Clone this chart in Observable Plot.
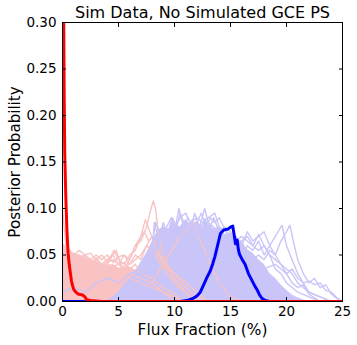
<!DOCTYPE html>
<html>
<head>
<meta charset="utf-8">
<script src="https://cdn.jsdelivr.net/npm/d3@7"></script>
<script src="https://cdn.jsdelivr.net/npm/@observablehq/plot@0.6"></script>
<style>
  html, body { margin: 0; padding: 0; background: #fff; }
  svg { font-family: "DejaVu Sans", sans-serif; }
</style>
</head>
<body>
<div id="chart"></div>
<script>
const titleText = "Sim Data, No Simulated GCE PS";
const xLabel = "Flux Fraction (%)";
const yLabel = "Posterior Probability";
const xTicks = [0, 5, 10, 15, 20, 25];
const yTicks = [0, 0.05, 0.10, 0.15, 0.20, 0.25, 0.30];

// Dense cores of the posterior sample clouds (upper envelope), [flux %, probability]
const pinkCore = [[0,.062],[0.5,.058],[1,.052],[1.5,.05],[2,.047],[2.5,.045],[3,.043],[3.5,.04],[4,.038],[4.5,.04],[5,.036],[5.5,.036],[6,.037],[6.5,.034],[7,.035],[7.5,.032],[8,.03],[8.5,.026],[9,.024],[9.5,.02],[10,.018],[10.5,.014],[11,.01],[11.5,.007],[12,.004],[12.5,.002],[13,0]];
const purpleCore = [[4,0],[4.5,.005],[5,.01],[5.5,.018],[6,.025],[6.5,.032],[7,.042],[7.5,.052],[8,.064],[8.5,.076],[9,.08],[9.5,.078],[9.75,.088],[10,.084],[10.5,.08],[11,.088],[11.5,.082],[12,.086],[12.5,.08],[12.75,.09],[13,.084],[13.5,.078],[14,.08],[14.5,.072],[15,.074],[15.5,.066],[16,.065],[16.5,.056],[17,.052],[17.5,.045],[18,.04],[18.5,.03],[19,.025],[19.5,.018],[20,.012],[20.5,.007],[21,.004],[21.5,.002],[22,0]];

// Individual faint sample curves (red-component samples)
const pinkSamples = [
  [[0,.04],[0.5,.045],[1,.04],[1.5,.05],[2,.045],[2.5,.042],[3,.047],[3.5,.04],[4,.045],[4.5,.05],[5,.04],[5.5,.035],[6,.045],[6.5,.06],[7,.065],[7.5,.08],[7.8,.095],[8.1,.108],[8.3,.1],[8.6,.07],[9,.05],[9.5,.035],[10,.02],[11,.01],[12,0]],
  [[0,.03],[1,.035],[2,.04],[3,.035],[4,.042],[4.6,.055],[5,.045],[5.5,.04],[6,.05],[6.5,.055],[7,.07],[7.4,.088],[7.8,.075],[8.3,.06],[9,.045],[10,.03],[11,.015],[12,.005],[13,0]],
  [[0,.05],[0.5,.05],[1,.045],[2,.05],[2.5,.04],[3,.045],[3.5,.038],[4,.04],[5,.035],[6,.04],[6.5,.05],[7,.045],[7.5,.06],[8,.07],[8.5,.055],[9,.04],[10,.025],[11,.01],[12,0]],
  [[0,.02],[1,.03],[2,.035],[3,.03],[4,.04],[4.5,.05],[4.8,.055],[5.2,.04],[6,.03],[7,.025],[8,.02],[9,.01],[10,0]],
  [[0,.1],[0.3,.06],[0.6,.05],[1,.045],[2,.04],[3,.035],[4,.03],[5,.03],[6,.025],[7,.02],[8,.015],[9,.01],[10,.005],[11,0]],
  [[8,.02],[9,.04],[10,.06],[10.5,.07],[11,.075],[11.6,.088],[12,.07],[12.5,.06],[13,.045],[14,.02],[15,.005],[16,0]],
  [[0,.06],[0.5,.055],[1,.05],[1.5,.055],[2,.05],[2.5,.052],[3,.045],[3.5,.05],[4,.042],[4.5,.045],[5,.04],[5.5,.042],[6,.035],[6.5,.04],[7,.03],[8,.025],[9,.015],[10,.008],[11,0]],
  [[0,.045],[0.5,.05],[1,.048],[1.5,.042],[2,.05],[2.5,.045],[3,.05],[3.5,.045],[4,.05],[4.5,.042],[5,.048],[5.5,.05],[6,.04],[6.5,.045],[7,.05],[7.5,.06],[8,.055],[8.5,.045],[9,.035],[10,.02],[11,.01],[12,0]],
  [[0,.035],[1,.04],[2,.03],[3,.04],[4,.035],[5,.04],[5.5,.05],[6,.045],[6.5,.06],[7,.07],[7.3,.075],[7.7,.065],[8,.07],[8.5,.05],[9,.04],[10,.03],[11,.02],[12,.01],[13,0]]
];

// Individual faint sample curves (blue-component samples)
const purpleSamples = [
  [[12,.02],[13,.03],[14,.04],[15,.05],[16,.045],[16.5,.06],[17,.055],[17.5,.065],[18,.05],[18.5,.06],[19,.07],[19.6,.082],[20,.06],[20.5,.045],[21,.03],[21.5,.02],[22,.01],[23,.005],[24,0]],
  [[13,.01],[14,.02],[15,.03],[16,.04],[17,.045],[17.5,.05],[18,.045],[18.5,.055],[19,.05],[19.5,.065],[20,.075],[20.3,.082],[20.7,.06],[21,.045],[21.5,.03],[22,.02],[22.5,.025],[23,.015],[23.5,.018],[24,.008],[24.5,.003],[25,0]],
  [[14,.03],[15,.05],[16,.065],[16.5,.07],[17,.06],[17.5,.072],[18,.06],[18.5,.05],[19,.045],[19.5,.04],[20,.035],[20.5,.03],[21,.02],[22,.01],[23,.005],[24,0]],
  [[15,.04],[16,.06],[16.5,.075],[17,.065],[17.5,.07],[18,.075],[18.5,.06],[19,.05],[19.5,.04],[20,.03],[20.5,.02],[21,.015],[21.5,.018],[22,.008],[23,0]],
  [[16,.03],[17,.04],[18,.035],[19,.04],[19.5,.035],[20,.03],[20.5,.035],[21,.025],[21.5,.02],[22,.022],[22.5,.018],[23,.02],[23.5,.012],[24,.01],[24.5,.004],[25,0]],
  [[6,.02],[7,.04],[8,.06],[8.3,.085],[8.8,.07],[9.3,.08],[9.7,.09],[10.1,.075],[10.5,.095],[11,.08],[11.5,.085],[12,.07],[12.7,.1],[13,.085],[13.5,.08],[14,.07],[15,.06],[16,.04],[17,.025],[18,.01],[19,0]],
  [[7,.03],[8,.05],[8.6,.07],[9,.065],[9.5,.075],[10,.08],[10.5,.09],[11,.095],[11.4,.085],[12,.09],[12.5,.085],[13,.09],[13.6,.095],[14,.08],[14.6,.075],[15,.07],[16,.05],[17,.035],[18,.015],[19,0]],
  [[0,.01],[1,.015],[2,.01],[3,.02],[4,.025],[5,.02],[6,.03],[7,.035],[8,.03],[9,.02],[10,.01],[11,0]],
  [[8,.04],[8.5,.06],[9,.085],[9.4,.07],[9.8,.09],[10.2,.08],[10.6,.07],[11,.085],[11.4,.075],[11.8,.095],[12.2,.08],[12.6,.085],[13,.075],[13.5,.09],[14,.075],[14.5,.08],[15,.065],[15.5,.07],[16,.055],[16.5,.05],[17,.04],[18,.02],[19,.005],[20,0]],
  [[9,.05],[9.5,.07],[10,.075],[10.4,.1],[10.8,.08],[11.2,.09],[11.6,.08],[12,.085],[12.4,.095],[12.8,.08],[13.2,.09],[13.6,.085],[14,.09],[14.4,.08],[15,.075],[15.5,.06],[16,.06],[16.5,.045],[17,.04],[17.5,.03],[18,.02],[19,.01],[20,0]],
  [[7,.02],[7.5,.04],[8,.055],[8.2,.085],[8.5,.07],[9,.075],[9.5,.065],[10,.07],[10.5,.075],[11,.07],[11.5,.075],[12,.065],[13,.07],[14,.06],[15,.05],[16,.035],[17,.02],[18,.01],[19,0]],
  [[12,.03],[13,.05],[14,.06],[15,.07],[15.5,.065],[16,.07],[16.5,.065],[17,.06],[17.5,.055],[18,.06],[18.5,.05],[19,.035],[19.5,.03],[20,.02],[20.5,.015],[21,.01],[22,.005],[23,0]]
];

// Highlighted posteriors
const bluePosterior = [[0,0],[10.5,0],[11.1,.001],[11.6,.003],[12,.006],[12.3,.01],[12.6,.018],[12.9,.026],[13.2,.033],[13.4,.04],[13.6,.048],[13.8,.058],[14,.068],[14.1,.073],[14.4,.077],[14.8,.078],[15,.08],[15.2,.081],[15.35,.07],[15.45,.062],[15.6,.066],[15.7,.056],[15.8,.051],[16,.046],[16.3,.04],[16.6,.03],[16.9,.023],[17.2,.016],[17.4,.012],[17.6,.007],[17.8,.0035],[18.1,.001],[18.5,0],[25,0]];
const redPosterior = [[0,.6],[0.1,.32],[0.15,.22],[0.2,.16],[0.3,.11],[0.4,.075],[0.5,.052],[0.6,.04],[0.7,.031],[0.8,.022],[0.9,.017],[1.0,.013],[1.2,.01],[1.4,.008],[1.6,.0075],[1.8,.007],[2.0,.005],[2.15,.002],[2.5,.001],[3,.0005],[3.5,0],[25,0]];

const pink = "#f9c3c3";
const purple = "#c9c5f8";

const toRows = (sets) => sets.flatMap((pts, i) => pts.map(([x, y]) => ({x, y, s: i})));
const pinkRows = toRows(pinkSamples);
const purpleRows = toRows(purpleSamples);

const fmt = d3.format(".2f");
const tickFont = 13.5;

const chart = Plot.plot({
  width: 357,
  height: 345,
  marginLeft: 62,
  marginRight: 15,
  marginTop: 22,
  marginBottom: 44,
  style: {fontFamily: "DejaVu Sans, sans-serif", background: "white"},
  x: {domain: [0, 25], axis: null},
  y: {domain: [0, 0.3], axis: null},
  marks: [
    Plot.areaY(pinkCore, {x: d => d[0], y: d => d[1], fill: pink, clip: true}),
    Plot.areaY(purpleCore, {x: d => d[0], y: d => d[1], fill: purple, clip: true}),
    Plot.line(pinkRows, {x: "x", y: "y", z: "s", stroke: pink, strokeWidth: 1.4, clip: true}),
    Plot.line(purpleRows, {x: "x", y: "y", z: "s", stroke: purple, strokeWidth: 1.4, clip: true}),
    Plot.line(bluePosterior, {x: d => d[0], y: d => d[1], stroke: "#0000ff", strokeWidth: 3, clip: true}),
    Plot.line(redPosterior, {x: d => d[0], y: d => d[1], stroke: "#ff0000", strokeWidth: 3, clip: true}),
    Plot.frame({stroke: "black", strokeWidth: 1}),
    // inward ticks on all four sides
    Plot.axisX(xTicks, {anchor: "bottom", tickSize: 4, insetBottom: 4, fill: "none", stroke: "black", label: null}),
    Plot.axisX(xTicks, {anchor: "top", tickSize: 4, insetTop: 4, fill: "none", stroke: "black", label: null}),
    Plot.axisY(yTicks, {anchor: "left", tickSize: 4, insetLeft: 4, fill: "none", stroke: "black", label: null}),
    Plot.axisY(yTicks, {anchor: "right", tickSize: 4, insetRight: 4, fill: "none", stroke: "black", label: null}),
    // tick labels
    Plot.axisX(xTicks, {anchor: "bottom", tickSize: 0, tickPadding: 5, fontSize: tickFont, fill: "black", label: null, tickFormat: d => String(d)}),
    Plot.axisY(yTicks, {anchor: "left", tickSize: 0, tickPadding: 6, fontSize: tickFont, fill: "black", label: null, tickFormat: fmt}),
    // title and axis labels
    Plot.text([titleText], {frameAnchor: "top", lineAnchor: "middle", dy: -10, fontSize: 16, fill: "black", text: d => d}),
    Plot.text([xLabel], {frameAnchor: "bottom", lineAnchor: "middle", dy: 29, fontSize: 15.4, fill: "black", text: d => d}),
    Plot.text([yLabel], {frameAnchor: "left", textAnchor: "middle", lineAnchor: "middle", dx: -47, rotate: -90, fontSize: 15.1, fill: "black", text: d => d})
  ]
});
document.getElementById("chart").appendChild(chart);
</script>
</body>
</html>
